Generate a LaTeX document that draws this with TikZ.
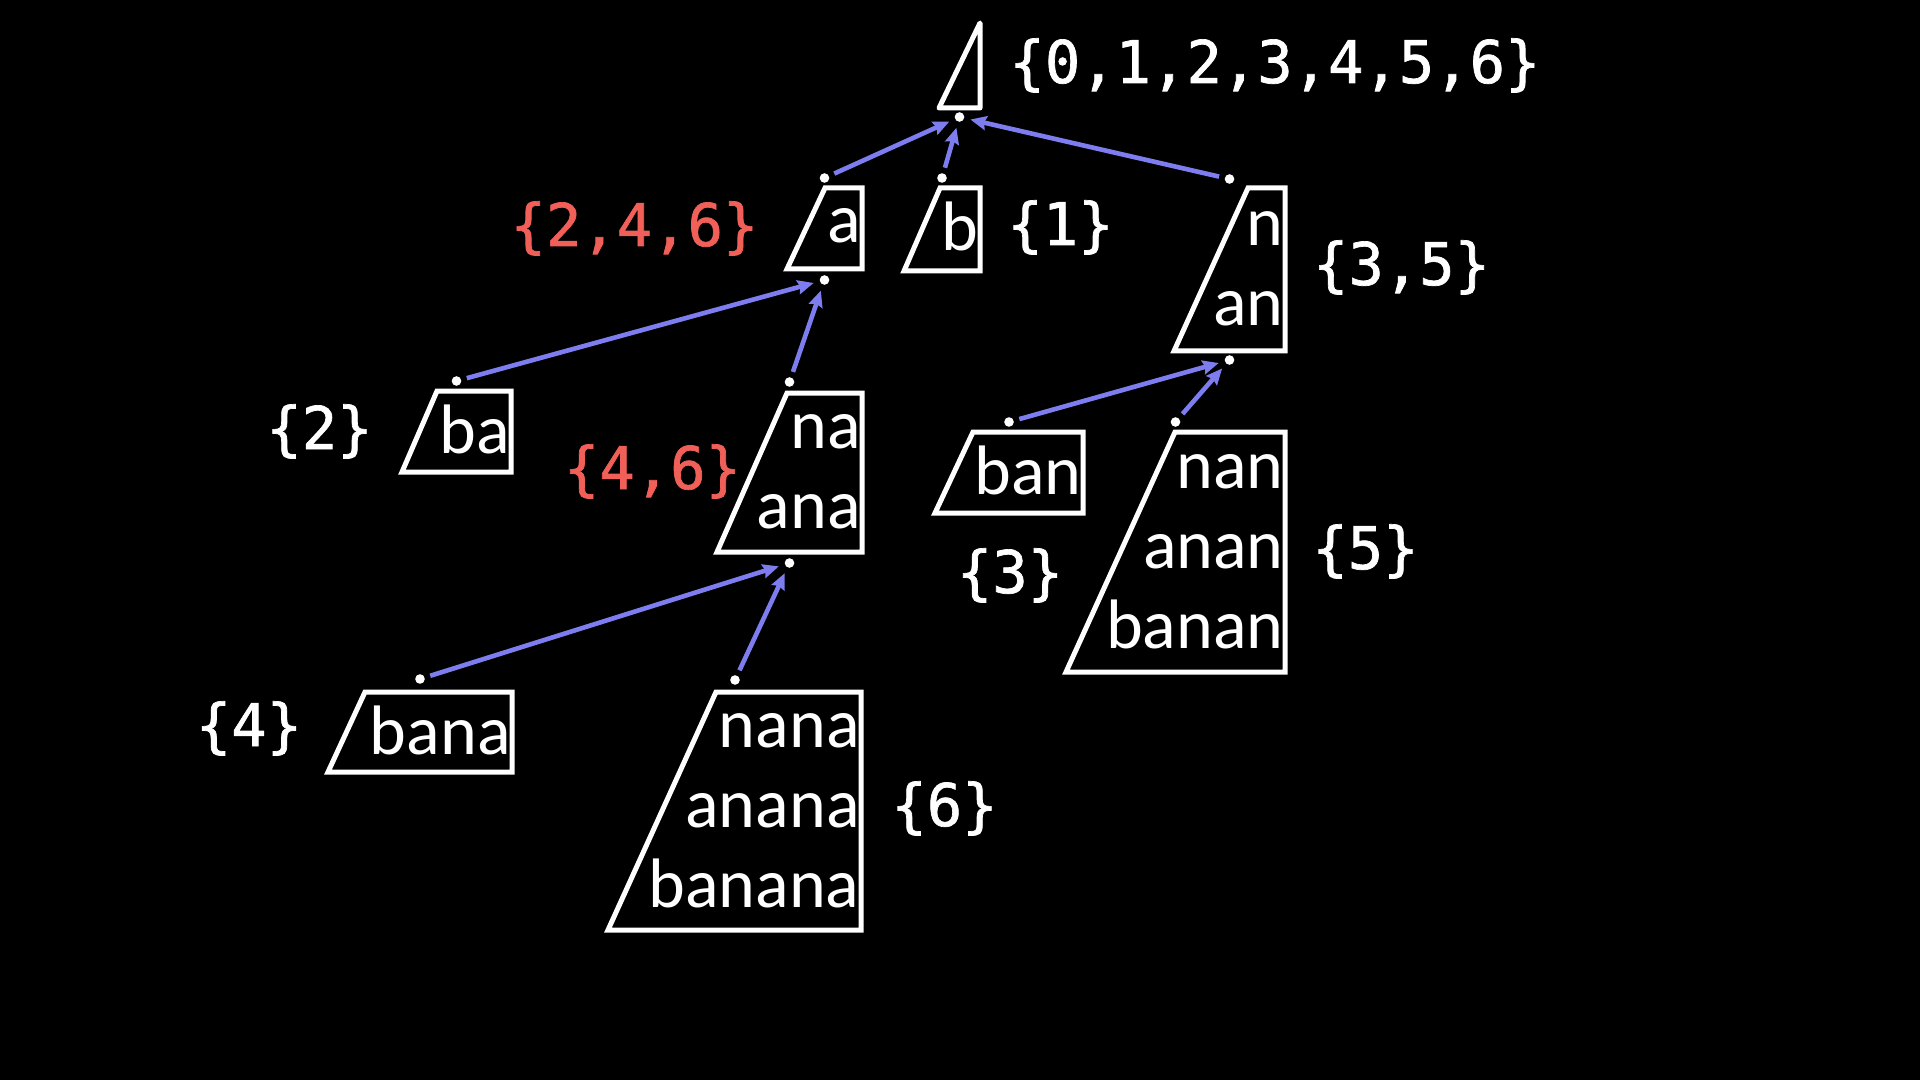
\documentclass[tikz,border=0pt]{standalone}
\usepackage{fontspec}
\newfontfamily\wordfam{Carlito}
\newfontfamily\monofam[FakeBold=1.2]{DejaVu Sans Mono}
\usetikzlibrary{arrows.meta}
\definecolor{arrowblue}{RGB}{125,125,240}
\definecolor{setred}{RGB}{240,96,88}
\tikzset{
  box/.style={draw=white, line width=2.5pt, line join=miter},
  word/.style={text=white, font=\wordfam\fontsize{35pt}{40pt}\selectfont, inner sep=0pt, anchor=base east},
  setw/.style={text=white, font=\monofam\fontsize{29.4pt}{34pt}\selectfont, inner sep=0pt, anchor=base},
  setr/.style={setw, text=setred},
  dot/.style={circle, fill=white, inner sep=0pt, minimum size=4.8pt},
  link/.style={draw=arrowblue, line width=2.3pt, -{Stealth[length=8pt,width=7pt,inset=1pt]}, shorten <=2.75pt, shorten >=3pt},
}
\begin{document}
\begin{tikzpicture}[x=0.5pt,y=-0.5pt]
\fill[black] (0,0) rectangle (1920,1080);
\useasboundingbox (0,0) rectangle (1920,1080);

% root
\draw[box, line join=round] (980,23) -- (980,108) -- (939,108) -- cycle;
\node[dot] (d0b) at (959.5,117) {};
\node[setw] (s0) at (1275,83) {\{0,1,2,3,4,5,6\}};

% a
\draw[box] (825,188) -- (862,188) -- (862,269) -- (787,269) -- cycle;
\node[dot] (d1t) at (824.5,178) {};
\node[dot] (d1b) at (824.5,280) {};
\node[word] (w1) at (861,243) {a};
\node[setr] (s1) at (634.5,246) {\{2,4,6\}};

% b
\draw[box] (940,188) -- (980,188) -- (980,271) -- (904,271) -- cycle;
\node[dot] (d2t) at (942,178) {};
\node[word] (w2) at (979,251) {b};
\node[setw] (s2) at (1060.5,245) {\{1\}};

% n / an
\draw[box] (1248,188) -- (1285,188) -- (1285,351) -- (1174,351) -- cycle;
\node[dot] (d3t) at (1229.5,179) {};
\node[dot] (d3b) at (1229.5,360) {};
\node[word] (w3a) at (1284,246) {n};
\node[word] (w3b) at (1284,326) {an};
\node[setw] (s3) at (1401.5,285) {\{3,5\}};

% ba
\draw[box] (437,391) -- (511,391) -- (511,472) -- (402,472) -- cycle;
\node[dot] (d4t) at (456.5,381) {};
\node[word] (w4) at (510,453) {ba};
\node[setw] (s4) at (319.5,449) {\{2\}};

% na / ana
\draw[box] (787,393) -- (862,393) -- (862,552) -- (717,552) -- cycle;
\node[dot] (d5t) at (789.5,382) {};
\node[dot] (d5b) at (789.5,563) {};
\node[word] (w5a) at (861,448.5) {na};
\node[word] (w5b) at (861,528.5) {ana};
\node[setr] (s5) at (652.5,489) {\{4,6\}};

% ban
\draw[box] (973,432) -- (1083,432) -- (1083,513) -- (935,513) -- cycle;
\node[dot] (d6t) at (1009,422) {};
\node[word] (w6) at (1082,494.5) {ban};
\node[setw] (s6) at (1010,593) {\{3\}};

% nan / anan / banan
\draw[box] (1175,432) -- (1285,432) -- (1285,672) -- (1066,672) -- cycle;
\node[dot] (d7t) at (1175.5,422) {};
\node[word] (w7a) at (1284,488) {nan};
\node[word] (w7b) at (1284,568) {anan};
\node[word] (w7c) at (1284,648) {banan};
\node[setw] (s7) at (1365.5,569) {\{5\}};

% bana
\draw[box] (365,692) -- (512,692) -- (512,772) -- (328,772) -- cycle;
\node[dot] (d8t) at (420,679) {};
\node[word] (w8) at (511,754) {bana};
\node[setw] (s8) at (249,746) {\{4\}};

% nana / anana / banana
\draw[box] (716,692) -- (861,692) -- (861,930) -- (608,930) -- cycle;
\node[dot] (d9t) at (735,680) {};
\node[word] (w9a) at (860,747) {nana};
\node[word] (w9b) at (860,827) {anana};
\node[word] (w9c) at (860,907) {banana};
\node[setw] (s9) at (944.5,826) {\{6\}};

% connectors
\draw[link] (d1t) -- (d0b);
\draw[link] (d2t) -- (d0b);
\draw[link] (d3t) -- (d0b);
\draw[link] (d4t) -- (d1b);
\draw[link] (d5t) -- (d1b);
\draw[link] (d8t) -- (d5b);
\draw[link] (d9t) -- (d5b);
\draw[link] (d6t) -- (d3b);
\draw[link] (d7t) -- (d3b);
\end{tikzpicture}
\end{document}
